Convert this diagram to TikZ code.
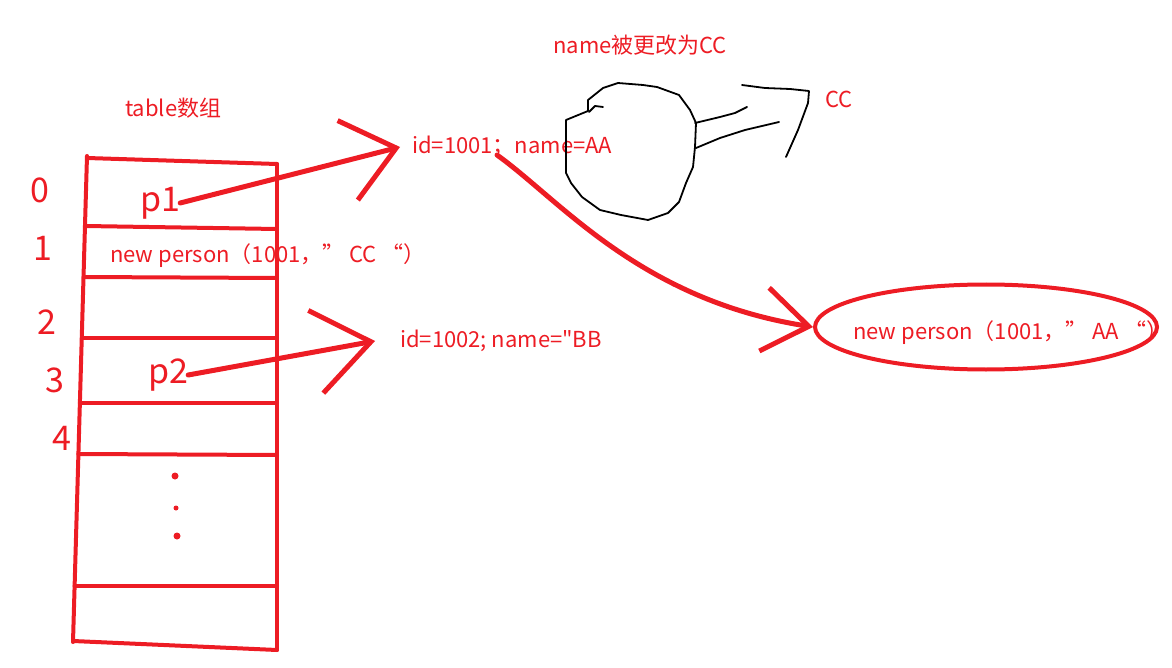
\documentclass[tikz,border=0pt]{standalone}
\usepackage{fontspec}
\setmainfont{Noto Sans CJK SC}[Ligatures=TeXOff]
\usepackage{xcolor}
\usetikzlibrary{arrows.meta,positioning,shapes.geometric}
\definecolor{paintred}{HTML}{ED1C24}

\begin{document}
\begin{tikzpicture}[x=1pt, y=-1pt,
    every node/.style={font=\fontsize{22}{26}\selectfont, text=paintred, inner sep=0pt},
    hand/.style={font=\fontsize{34}{34}\selectfont},
    cell/.style={draw=paintred, line width=4pt, line cap=round},
    ptr/.style={draw=paintred, line width=5pt, line cap=round,
      -{Straight Barb[length=50pt, width=82pt]}},
    scribble/.style={draw=black, line width=1.8pt, line join=round, line cap=round}]
  \useasboundingbox (0,0) rectangle (1172,668);

  % the table array
  \draw[cell] (87,156) -- (73,642);
  \draw[cell] (277,164) -- (277,650);
  \draw[cell] (87,158) -- (277,164);
  \foreach \ya/\yb in {226/229, 277/278, 338/338, 403/403, 454/455, 586/586}
    \draw[cell] ({87-14*(\ya-156)/486},\ya) -- (277,\yb);
  \draw[cell] (73,641) -- (277,650);

  \node[anchor=west] (title) at (125,108) {table数组};
  \node[hand] (i0) at (40,190) {0};
  \node[hand] (i1) at (43,248) {1};
  \node[hand] (i2) at (47,322) {2};
  \node[hand] (i3) at (55,380) {3};
  \node[hand] (i4) at (62,438) {4};

  \node[hand] (p1) at (160,203) {p1};
  \node[hand] (p2) at (168,375) {p2};
  \node[anchor=west] (row1) at (110,256) {new person（1001，” CC “）};
  \fill[paintred] (175,476) circle (3.5pt);
  \fill[paintred] (176,508) circle (2.5pt);
  \fill[paintred] (177,536) circle (3.5pt);

  % objects in the heap
  \node[anchor=west] (obj1) at (412,147) {id=1001；name=AA};
  \node[anchor=west] (obj2) at (400,341) {id=1002; name="BB};
  \node[anchor=west] (note) at (553,45) {name被更改为CC};
  \node[anchor=west] (cc) at (825,99) {CC};
  \node[ellipse, draw=paintred, line width=4pt, minimum width=342pt,
    minimum height=85pt] (objAA) at (986,327) {};
  \node[anchor=west] (aa) at (853,333) {new person（1001，” AA “）};

  \draw[ptr] (p1.east) -- ([xshift=-12pt]obj1.west);
  \draw[ptr, -{Straight Barb[length=56pt, width=84pt]}] (p2.east) -- ([xshift=-25pt]obj2.west);
  \coordinate (bend) at (497,155);
  \draw[ptr, -{Straight Barb[length=45pt, width=64pt]}]
    (bend) .. controls (560,200) and (640,300) .. (objAA.west);

  % the black scribble round name=AA
  \draw[scribble] (566,120) -- (588,111) -- (588,100) -- (603,88) -- (618,83)
    -- (643,85) -- (657,87) -- (679,95) -- (690,110) -- (696,123) -- (695,147)
    -- (693,167) -- (686,183) -- (679,202) -- (668,213) -- (648,220) -- (621,215)
    -- (600,210) -- (582,197) -- (571,183) -- (566,173) -- cycle;
  \draw[scribble] (589,112) -- (595,106) -- (603,107);
  \draw[scribble] (695,123) -- (720,117) -- (735,113) -- (747,107);
  \draw[scribble] (696,148) -- (720,138) -- (745,130) -- (779,122);
  \draw[scribble] (742,85) -- (765,88) -- (790,89) -- (809,91) -- (808,103)
    -- (798,130) -- (786,157);
\end{tikzpicture}
\end{document}
